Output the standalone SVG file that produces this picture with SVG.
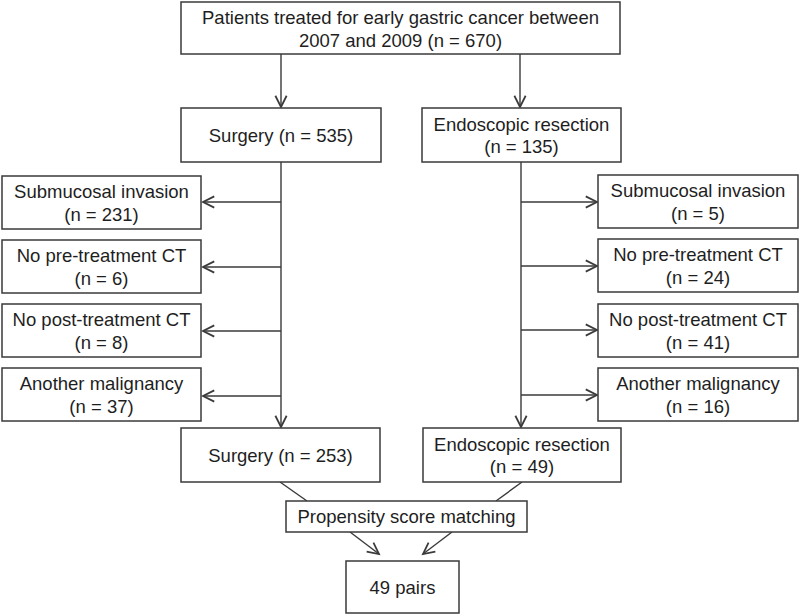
<svg xmlns="http://www.w3.org/2000/svg" width="800" height="615" viewBox="0 0 800 615">
<defs>
<marker id="ah" markerUnits="userSpaceOnUse" markerWidth="20" markerHeight="20" viewBox="-12 -8 14 16" refX="0" refY="0" orient="auto">
<path d="M-9,-4.5 L0,0 L-9,4.5" fill="none" stroke="#3a3a3a" stroke-width="1.4"/>
</marker>
</defs>
<style>
.box{fill:#fff;stroke:#3a3a3a;stroke-width:1.5}
.t{font-family:"Liberation Sans",Arial,sans-serif;font-size:18.5px;fill:#1e1e1e;text-anchor:middle}
.c{fill:none;stroke:#3a3a3a;stroke-width:1.4}
.a{marker-end:url(#ah)}
</style>
<rect width="800" height="615" fill="#fff"/>
<g id="connectors">
<line class="c a" x1="281" y1="54" x2="281" y2="107"/>
<line class="c a" x1="520" y1="54" x2="520" y2="107"/>
<line class="c a" x1="281" y1="162" x2="281" y2="427"/>
<line class="c a" x1="521" y1="162" x2="521" y2="427"/>
<line class="c a" x1="281" y1="202" x2="203" y2="202"/>
<line class="c a" x1="281" y1="267" x2="203" y2="267"/>
<line class="c a" x1="281" y1="331" x2="203" y2="331"/>
<line class="c a" x1="281" y1="396" x2="203" y2="396"/>
<line class="c a" x1="521" y1="202" x2="597" y2="202"/>
<line class="c a" x1="521" y1="266" x2="597" y2="266"/>
<line class="c a" x1="521" y1="330" x2="597" y2="330"/>
<line class="c a" x1="521" y1="395" x2="597" y2="395"/>
<line class="c" x1="280" y1="482" x2="307" y2="501"/>
<line class="c" x1="522" y1="482" x2="496" y2="501"/>
<line class="c a" x1="350" y1="532" x2="379" y2="554"/>
<line class="c a" x1="452" y1="532" x2="423" y2="554"/>
</g>
<g id="n_top">
<rect class="box" x="181" y="2" width="439" height="52"/>
<text class="t" x="400.5" y="24">Patients treated for early gastric cancer between</text>
<text class="t" x="400.5" y="47">2007 and 2009 (n = 670)</text>
</g>
<g id="n_surgery1">
<rect class="box" x="181" y="108" width="200" height="54"/>
<text class="t" x="281" y="141.5">Surgery (n = 535)</text>
</g>
<g id="n_endo1">
<rect class="box" x="422" y="108" width="199" height="54"/>
<text class="t" x="521.5" y="130.5">Endoscopic resection</text>
<text class="t" x="521.5" y="153">(n = 135)</text>
</g>
<g id="n_l1">
<rect class="box" x="2" y="176" width="199" height="53"/>
<text class="t" x="101.5" y="198">Submucosal invasion</text>
<text class="t" x="101.5" y="221">(n = 231)</text>
</g>
<g id="n_l2">
<rect class="box" x="2" y="240" width="199" height="53"/>
<text class="t" x="101.5" y="262">No pre-treatment CT</text>
<text class="t" x="101.5" y="285">(n = 6)</text>
</g>
<g id="n_l3">
<rect class="box" x="2" y="304" width="199" height="53"/>
<text class="t" x="101.5" y="326">No post-treatment CT</text>
<text class="t" x="101.5" y="349">(n = 8)</text>
</g>
<g id="n_l4">
<rect class="box" x="2" y="368" width="199" height="53"/>
<text class="t" x="101.5" y="390">Another malignancy</text>
<text class="t" x="101.5" y="413">(n = 37)</text>
</g>
<g id="n_r1">
<rect class="box" x="598" y="175" width="200" height="53"/>
<text class="t" x="698" y="197">Submucosal invasion</text>
<text class="t" x="698" y="220">(n = 5)</text>
</g>
<g id="n_r2">
<rect class="box" x="598" y="239" width="200" height="53"/>
<text class="t" x="698" y="261">No pre-treatment CT</text>
<text class="t" x="698" y="284">(n = 24)</text>
</g>
<g id="n_r3">
<rect class="box" x="598" y="304" width="200" height="53"/>
<text class="t" x="698" y="326">No post-treatment CT</text>
<text class="t" x="698" y="349">(n = 41)</text>
</g>
<g id="n_r4">
<rect class="box" x="598" y="368" width="200" height="53"/>
<text class="t" x="698" y="390">Another malignancy</text>
<text class="t" x="698" y="413">(n = 16)</text>
</g>
<g id="n_surgery2">
<rect class="box" x="181" y="428" width="199" height="54"/>
<text class="t" x="280.5" y="461.5">Surgery (n = 253)</text>
</g>
<g id="n_endo2">
<rect class="box" x="423" y="428" width="198" height="54"/>
<text class="t" x="522" y="450.5">Endoscopic resection</text>
<text class="t" x="522" y="473">(n = 49)</text>
</g>
<g id="n_psm">
<rect class="box" x="286" y="501" width="241" height="31"/>
<text class="t" x="406.5" y="523">Propensity score matching</text>
</g>
<g id="n_pairs">
<rect class="box" x="346" y="561" width="113" height="52"/>
<text class="t" x="402.5" y="593.5">49 pairs</text>
</g>
</svg>
